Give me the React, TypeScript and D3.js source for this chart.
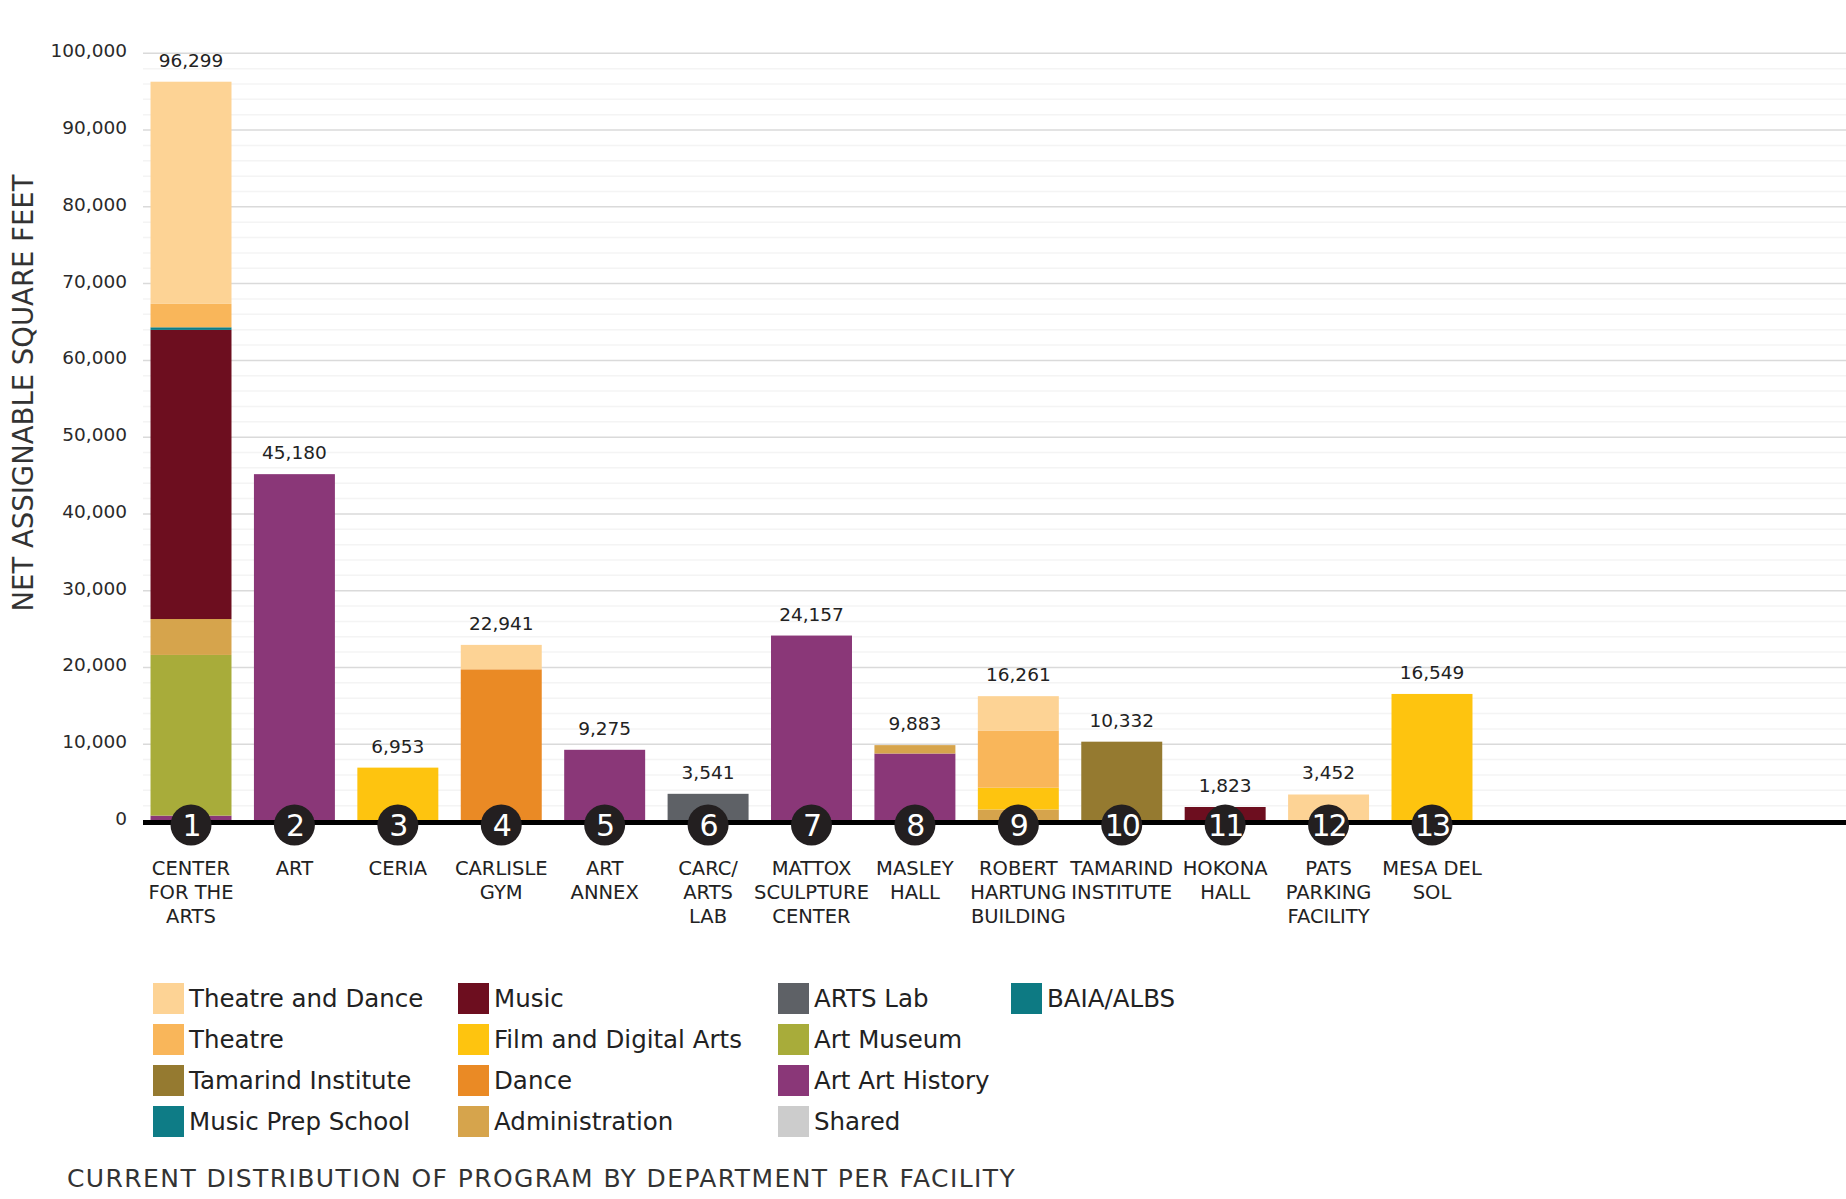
import React, {useEffect, useRef} from 'react';
import * as d3 from 'd3';

// facility names, one entry per line of the label
const facilities: string[][] = [
  ['CENTER', 'FOR THE', 'ARTS'],
  ['ART'],
  ['CERIA'],
  ['CARLISLE', 'GYM'],
  ['ART', 'ANNEX'],
  ['CARC/', 'ARTS', 'LAB'],
  ['MATTOX', 'SCULPTURE', 'CENTER'],
  ['MASLEY', 'HALL'],
  ['ROBERT', 'HARTUNG', 'BUILDING'],
  ['TAMARIND', 'INSTITUTE'],
  ['HOKONA', 'HALL'],
  ['PATS', 'PARKING', 'FACILITY'],
  ['MESA DEL', 'SOL'],
];

// net assignable square feet by department, per facility
const artArtHistory = [700, 45180, 0, 0, 9275, 0, 24157, 8790, 0, 0, 0, 0, 0];
const artMuseum = [20930, 0, 0, 0, 0, 0, 0, 0, 0, 0, 0, 0, 0];
const administration = [4680, 0, 0, 0, 0, 0, 0, 1093, 1501, 0, 0, 0, 0];
const film = [0, 0, 6953, 0, 0, 0, 0, 0, 2830, 0, 0, 0, 16549];
const dance = [0, 0, 0, 19760, 0, 0, 0, 0, 0, 0, 0, 0, 0];
const tamarind = [0, 0, 0, 0, 0, 0, 0, 0, 0, 10332, 0, 0, 0];
const artsLab = [0, 0, 0, 0, 0, 3541, 0, 0, 0, 0, 0, 0, 0];
const music = [37660, 0, 0, 0, 0, 0, 0, 0, 0, 0, 1823, 0, 0];
const musicPrep = [340, 0, 0, 0, 0, 0, 0, 0, 0, 0, 0, 0, 0];
const baia = [0, 0, 0, 0, 0, 0, 0, 0, 0, 0, 0, 0, 0];
const theatre = [3050, 0, 0, 0, 0, 0, 0, 0, 7460, 0, 0, 0, 0];
const theatreDance = [28939, 0, 0, 3181, 0, 0, 0, 0, 4470, 0, 0, 3452, 0];
const shared = [0, 0, 0, 0, 0, 0, 0, 0, 0, 0, 0, 0, 0];

const yTicks = [0, 10000, 20000, 30000, 40000, 50000, 60000, 70000, 80000, 90000, 100000];

// stacking order, bottom to top
const series: {name: string, color: string, values: number[]}[] = [
  {name: 'Art Art History', color: '#8a3778', values: artArtHistory},
  {name: 'Art Museum', color: '#a8ac3a', values: artMuseum},
  {name: 'Administration', color: '#d6a44c', values: administration},
  {name: 'Film and Digital Arts', color: '#fec40f', values: film},
  {name: 'Dance', color: '#ea8a25', values: dance},
  {name: 'Tamarind Institute', color: '#957a30', values: tamarind},
  {name: 'ARTS Lab', color: '#5e6166', values: artsLab},
  {name: 'Music', color: '#6d0e1f', values: music},
  {name: 'Music Prep School', color: '#0e7c86', values: musicPrep},
  {name: 'BAIA/ALBS', color: '#0d7a83', values: baia},
  {name: 'Theatre', color: '#f9b65a', values: theatre},
  {name: 'Theatre and Dance', color: '#fdd395', values: theatreDance},
  {name: 'Shared', color: '#cccccc', values: shared},
];

// legend columns as laid out in the picture
const legendColumns = [
  ['Theatre and Dance', 'Theatre', 'Tamarind Institute', 'Music Prep School'],
  ['Music', 'Film and Digital Arts', 'Dance', 'Administration'],
  ['ARTS Lab', 'Art Museum', 'Art Art History', 'Shared'],
  ['BAIA/ALBS'],
];

const FONT = '"DejaVu Sans", sans-serif';
const W = 1846;
const H = 1199;

export default function App() {
  const ref = useRef<SVGSVGElement>(null);

  useEffect(() => {
    const svg = d3.select(ref.current);
    svg.selectAll('*').remove();

    const rows = facilities.map((f, i) => {
      const row: any = {idx: i};
      series.forEach((s) => {
        row[s.name] = s.values[i];
      });
      return row;
    });

    const x = d3.scaleBand<number>()
        .domain(d3.range(facilities.length))
        .range([139.3, 1483.7])
        .paddingInner(0.217)
        .paddingOuter(0.1085);

    const y = d3.scaleLinear()
        .domain([0, 100000])
        .range([821, 53.3]);

    const gridLeft = 143;

    // faint minor grid every 2,000
    svg.append('g')
        .selectAll('line')
        .data(d3.range(2000, 100001, 2000).filter((v) => v % 10000 !== 0))
        .join('line')
        .attr('x1', gridLeft)
        .attr('x2', W)
        .attr('y1', (d) => y(d))
        .attr('y2', (d) => y(d))
        .attr('stroke', '#f4f4f4')
        .attr('stroke-width', 1.5);

    // major grid
    svg.append('g')
        .selectAll('line')
        .data(yTicks.filter((v) => v > 0))
        .join('line')
        .attr('x1', gridLeft)
        .attr('x2', W)
        .attr('y1', (d) => y(d))
        .attr('y2', (d) => y(d))
        .attr('stroke', '#dadada')
        .attr('stroke-width', 1.5);

    // y tick labels
    svg.append('g')
        .selectAll('text')
        .data(yTicks)
        .join('text')
        .attr('x', 127)
        .attr('y', (d) => y(d) + 4)
        .attr('text-anchor', 'end')
        .style('font-family', FONT)
        .style('font-size', '18.5px')
        .attr('fill', '#2a2a2a')
        .text((d) => d3.format(',')(d));

    // y axis title
    svg.append('text')
        .attr('transform', 'translate(33,393) rotate(-90)')
        .attr('text-anchor', 'middle')
        .style('font-family', FONT)
        .style('font-size', '27.5px')
        .attr('fill', '#333')
        .text('NET ASSIGNABLE SQUARE FEET');

    // stacked bars
    const stacked = d3.stack<any>()
        .keys(series.map((s) => s.name))(rows);

    const layers = svg.append('g')
        .selectAll('g')
        .data(stacked)
        .join('g')
        .attr('fill', (d, i) => series[i].color);

    layers.selectAll('rect')
        .data((d) => d.filter((p) => p[1] - p[0] > 0))
        .join('rect')
        .attr('x', (d: any) => x(d.data.idx) as number)
        .attr('width', x.bandwidth())
        .attr('y', (d: any) => y(d[1]))
        .attr('height', (d: any) => y(d[0]) - y(d[1]));

    // totals above the bars
    const totals = rows.map((r, i) => d3.sum(series, (s) => s.values[i]));
    svg.append('g')
        .selectAll('text')
        .data(totals)
        .join('text')
        .attr('x', (d, i) => (x(i) as number) + x.bandwidth() / 2)
        .attr('y', (d) => y(d) - 15)
        .attr('text-anchor', 'middle')
        .style('font-family', FONT)
        .style('font-size', '18.5px')
        .attr('fill', '#222')
        .text((d) => d3.format(',')(d));

    // baseline
    svg.append('line')
        .attr('x1', gridLeft)
        .attr('x2', W)
        .attr('y1', 822.5)
        .attr('y2', 822.5)
        .attr('stroke', '#000')
        .attr('stroke-width', 5);

    // numbered circles
    const badges = svg.append('g')
        .selectAll('g')
        .data(facilities)
        .join('g')
        .attr('transform', (d, i) =>
          `translate(${(x(i) as number) + x.bandwidth() / 2},825)`);
    badges.append('circle')
        .attr('r', 20.5)
        .attr('fill', '#231f20');
    badges.append('text')
        .attr('y', 11)
        .attr('text-anchor', 'middle')
        .style('font-family', FONT)
        .style('font-size', '30px')
        .style('letter-spacing', '-2px')
        .attr('fill', '#fff')
        .text((d, i) => String(i + 1));

    // facility names
    const names = svg.append('g')
        .selectAll('text')
        .data(facilities)
        .join('text')
        .attr('text-anchor', 'middle')
        .style('font-family', FONT)
        .style('font-size', '19.5px')
        .attr('fill', '#222');
    names.selectAll('tspan')
        .data((d, i) => d.map((line) => ({line, i})))
        .join('tspan')
        .attr('x', (d) => (x(d.i) as number) + x.bandwidth() / 2)
        .attr('y', (d, j) => 875 + j * 23.8)
        .text((d) => d.line);

    // legend
    const colX = [153, 458, 778, 1011];
    const rowY = [998, 1039, 1080, 1121];
    const colorOf = (name: string) =>
      (series.find((s) => s.name === name) as any).color;
    legendColumns.forEach((col, ci) => {
      const g = svg.append('g');
      g.selectAll('rect')
          .data(col)
          .join('rect')
          .attr('x', colX[ci])
          .attr('y', (d, ri) => rowY[ri] - 15)
          .attr('width', 31)
          .attr('height', 31)
          .attr('fill', (d) => colorOf(d));
      g.selectAll('text')
          .data(col)
          .join('text')
          .attr('x', colX[ci] + 36)
          .attr('y', (d, ri) => rowY[ri] + 9)
          .style('font-family', FONT)
          .style('font-size', '24.5px')
          .attr('fill', '#222')
          .text((d) => d);
    });

    // caption
    svg.append('text')
        .attr('x', 67)
        .attr('y', 1187)
        .style('font-family', FONT)
        .style('font-size', '25px')
        .style('letter-spacing', '1.4px')
        .attr('fill', '#333')
        .text('CURRENT DISTRIBUTION OF PROGRAM BY DEPARTMENT PER FACILITY');
  }, []);

  return (
    <div>
      <svg ref={ref} width={W} height={H}
        style={{position: 'absolute', left: 0, top: 0, background: '#fff'}} />
    </div>
  );
}
